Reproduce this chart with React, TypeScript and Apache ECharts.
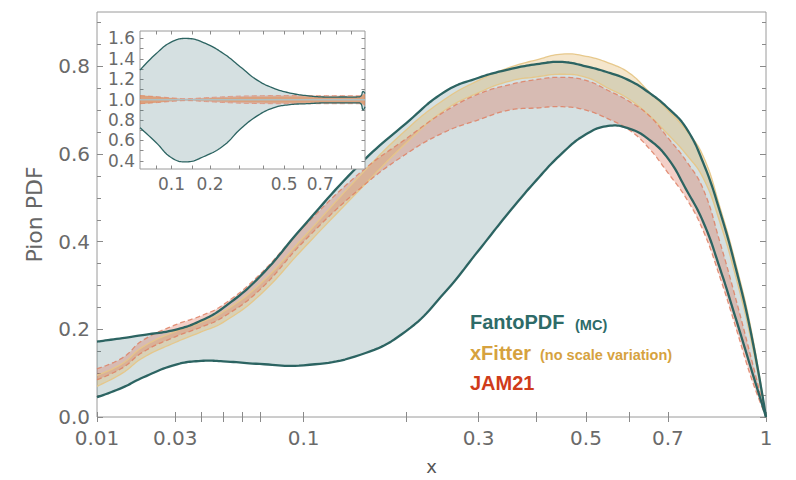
import React, { useEffect, useRef } from 'react';
import * as echarts from 'echarts';

// ---------- main panel data (x in [0.01, 1]) ----------
const xValues = [0.01, 0.015, 0.02, 0.03, 0.04, 0.05, 0.07, 0.1, 0.15, 0.2, 0.25, 0.3, 0.35, 0.4, 0.45, 0.5, 0.55, 0.6, 0.65, 0.7, 0.75, 0.8, 0.85, 0.9, 0.95, 1];
const fantoUpper = [0.172, 0.18, 0.187, 0.199, 0.22, 0.249, 0.32, 0.436, 0.578, 0.67, 0.742, 0.774, 0.793, 0.805, 0.81, 0.8, 0.786, 0.768, 0.74, 0.705, 0.66, 0.58, 0.47, 0.34, 0.19, 0];
const fantoLower = [0.045, 0.067, 0.09, 0.119, 0.128, 0.127, 0.121, 0.118, 0.142, 0.196, 0.284, 0.38, 0.467, 0.541, 0.602, 0.645, 0.664, 0.658, 0.633, 0.59, 0.52, 0.445, 0.34, 0.225, 0.11, 0];
const xfitterUpper = [0.095, 0.122, 0.16, 0.195, 0.216, 0.24, 0.303, 0.41, 0.552, 0.655, 0.725, 0.768, 0.797, 0.815, 0.828, 0.823, 0.808, 0.785, 0.742, 0.7, 0.655, 0.595, 0.48, 0.35, 0.2, 0];
const xfitterLower = [0.07, 0.1, 0.135, 0.17, 0.194, 0.216, 0.278, 0.385, 0.52, 0.625, 0.7, 0.74, 0.766, 0.776, 0.782, 0.775, 0.75, 0.725, 0.688, 0.645, 0.6, 0.545, 0.445, 0.32, 0.175, 0];
const jamUpper = [0.11, 0.135, 0.175, 0.21, 0.231, 0.256, 0.325, 0.434, 0.558, 0.635, 0.697, 0.737, 0.758, 0.77, 0.775, 0.768, 0.745, 0.72, 0.688, 0.637, 0.585, 0.52, 0.4, 0.27, 0.135, 0];
const jamLower = [0.085, 0.112, 0.148, 0.183, 0.205, 0.228, 0.29, 0.4, 0.522, 0.6, 0.65, 0.678, 0.7, 0.705, 0.708, 0.7, 0.68, 0.655, 0.613, 0.557, 0.5, 0.425, 0.32, 0.205, 0.09, 0];

const xTickValues = [0.01, 0.03, 0.04, 0.05, 0.06, 0.07, 0.1, 0.2, 0.3, 0.4, 0.5, 0.6, 0.7, 1];
const xLabelValues = [0.01, 0.03, 0.1, 0.3, 0.5, 0.7, 1];
const xLabelTexts = ['0.01', '0.03', '0.1', '0.3', '0.5', '0.7', '1'];
const yMajorTicks = [0, 0.2, 0.4, 0.6, 0.8];
const yMinorTicks = [0.05, 0.1, 0.15, 0.25, 0.3, 0.35, 0.45, 0.5, 0.55, 0.65, 0.7, 0.75, 0.85, 0.9];

// ---------- inset data (ratio to central value) ----------
const insetX = [0.045, 0.07, 0.1, 0.135, 0.18, 0.243, 0.304, 0.372, 0.447, 0.53, 0.621, 0.719, 0.85, 0.94, 0.97, 0.985, 1];
const fantoRatioUpper = [1.29, 1.45, 1.566, 1.6, 1.56, 1.453, 1.323, 1.194, 1.113, 1.065, 1.039, 1.026, 1.026, 1.026, 1.035, 1.08, 1.06];
const fantoRatioLower = [0.725, 0.58, 0.43, 0.39, 0.44, 0.547, 0.709, 0.838, 0.919, 0.951, 0.96, 0.968, 0.968, 0.968, 0.96, 0.9, 0.93];
const xfitterRatioUpper = [1.045, 1.03, 1.015, 1.006, 1.012, 1.02, 1.025, 1.028, 1.03, 1.03, 1.03, 1.03, 1.03, 1.032, 1.035, 1.045, 1.05];
const xfitterRatioLower = [0.955, 0.97, 0.985, 0.994, 0.988, 0.98, 0.975, 0.972, 0.97, 0.97, 0.97, 0.97, 0.97, 0.968, 0.965, 0.955, 0.95];
const jamRatioUpper = [1.04, 1.03, 1.018, 1.01, 1.018, 1.028, 1.035, 1.038, 1.04, 1.04, 1.04, 1.04, 1.04, 1.04, 1.042, 1.05, 1.055];
const jamRatioLower = [0.96, 0.97, 0.982, 0.99, 0.982, 0.972, 0.965, 0.962, 0.96, 0.96, 0.96, 0.96, 0.96, 0.96, 0.958, 0.95, 0.945];
const centralRatio = [1, 1, 1, 1, 1, 1, 1, 1, 1, 1, 1, 1, 1, 1, 1, 1, 1];

const insetXTicks = [0.07, 0.1, 0.15, 0.2, 0.3, 0.4, 0.5, 0.6, 0.7, 0.8, 0.9];
const insetXLabelValues = [0.1, 0.2, 0.5, 0.7];
const insetXLabelTexts = ['0.1', '0.2', '0.5', '0.7'];
const insetYTicks = [0.4, 0.5, 0.6, 0.7, 0.8, 0.9, 1.0, 1.1, 1.2, 1.3, 1.4, 1.5, 1.6];
const insetYLabels = [0.4, 0.6, 0.8, 1.0, 1.2, 1.4, 1.6];

// ---------- styling ----------
const P_MAIN = 0.35;
const P_INSET = 0.46;
const tMain = (x: number) => Math.pow(x, P_MAIN);
const tInset = (x: number) => Math.pow(x, P_INSET);
const FONT = "'DejaVu Sans', sans-serif";
const LEG_FONT = "'Liberation Sans', Arial, Helvetica, sans-serif";
const FRAME = '#9a9a9a';
const TICK = '#8a8a8a';
const LABEL = '#6a6a6a';
const FANTO_LINE = '#2c6462';
const FANTO_FILL = 'rgba(55,110,115,0.21)';
const XF_FILL = 'rgba(225,178,95,0.32)';
const XF_EDGE = 'rgba(230,198,135,0.95)';
const JAM_FILL = 'rgba(222,110,85,0.32)';
const JAM_EDGE = 'rgba(222,128,100,0.85)';
const SMOOTH = 0.45;
const STEPS = 12;

// Smooth curve through pixel points (bezier control points from neighbours, no clamping).
function smoothPath(pts: number[][]): number[][] {
  const n = pts.length;
  const cps: number[][][] = [];
  for (let i = 0; i < n; i++) {
    const p = pts[i];
    if (i === 0 || i === n - 1) { cps.push([p, p]); continue; }
    const a = pts[i - 1];
    const b = pts[i + 1];
    const vx = (b[0] - a[0]) * SMOOTH;
    const vy = (b[1] - a[1]) * SMOOTH;
    const d0 = Math.hypot(p[0] - a[0], p[1] - a[1]);
    const d1 = Math.hypot(b[0] - p[0], b[1] - p[1]);
    const s = d0 + d1 || 1;
    cps.push([[p[0] - vx * d0 / s, p[1] - vy * d0 / s], [p[0] + vx * d1 / s, p[1] + vy * d1 / s]]);
  }
  const out: number[][] = [];
  for (let i = 0; i < n - 1; i++) {
    const p0 = pts[i], c1 = cps[i][1], c2 = cps[i + 1][0], p1 = pts[i + 1];
    for (let k = 0; k < STEPS; k++) {
      const t = k / STEPS, u = 1 - t;
      const w0 = u * u * u, w1 = 3 * u * u * t, w2 = 3 * u * t * t, w3 = t * t * t;
      out.push([
        w0 * p0[0] + w1 * c1[0] + w2 * c2[0] + w3 * p1[0],
        w0 * p0[1] + w1 * c1[1] + w2 * c2[1] + w3 * p1[1],
      ]);
    }
  }
  out.push(pts[n - 1]);
  return out;
}

// Band: custom series whose data are [t, lower, upper]; drawn as one smooth polygon.
function bandSeries(xs: number[], tf: (x: number) => number, lo: number[], hi: number[], fill: string, xi: number, yi: number, z: number) {
  return {
    type: 'custom', xAxisIndex: xi, yAxisIndex: yi, z, silent: true,
    encode: { x: 0, y: [1, 2] },
    data: xs.map((x, i) => [tf(x), lo[i], hi[i]]),
    renderItem: (params: any, api: any) => {
      if (params.dataIndex !== 0) return null;
      const n = params.dataInsideLength;
      const up: number[][] = [];
      const dn: number[][] = [];
      for (let i = 0; i < n; i++) {
        up.push(api.coord([api.value(0, i), api.value(2, i)]));
        dn.push(api.coord([api.value(0, i), api.value(1, i)]));
      }
      const points = smoothPath(up).concat(smoothPath(dn).reverse());
      return { type: 'polygon', silent: true, shape: { points }, style: { fill } };
    },
  };
}

function edgeSeries(xs: number[], tf: (x: number) => number, ys: number[], color: string, width: number, dashed: boolean, xi: number, yi: number, z: number) {
  return {
    type: 'custom', xAxisIndex: xi, yAxisIndex: yi, z, silent: true,
    encode: { x: 0, y: 1 },
    data: xs.map((x, i) => [tf(x), ys[i]]),
    renderItem: (params: any, api: any) => {
      if (params.dataIndex !== 0) return null;
      const n = params.dataInsideLength;
      const pts: number[][] = [];
      for (let i = 0; i < n; i++) pts.push(api.coord([api.value(0, i), api.value(1, i)]));
      return {
        type: 'polyline', silent: true, shape: { points: smoothPath(pts) },
        style: { stroke: color, lineWidth: width, fill: null, lineDash: dashed ? [5, 3] : null, lineJoin: 'round' },
      };
    },
  };
}

function tickAxis(extra: any) {
  return {
    type: 'value', splitLine: { show: false }, axisLine: { show: false },
    axisLabel: { show: false }, ...extra,
  };
}

export default function App() {
  const ref = useRef<HTMLDivElement>(null);
  useEffect(() => {
    if (!ref.current) return;
    const chart = echarts.init(ref.current, null, { renderer: 'svg' });
    const mainXMin = tMain(xValues[0]);
    const insetXMin = tInset(insetX[0]);
    const mainXLabel = (v: number) => {
      const i = xLabelValues.findIndex((x) => Math.abs(tMain(x) - v) < 1e-6);
      return i >= 0 ? xLabelTexts[i] : '';
    };
    const insetXLabel = (v: number) => {
      const i = insetXLabelValues.findIndex((x) => Math.abs(tInset(x) - v) < 1e-6);
      return i >= 0 ? insetXLabelTexts[i] : '';
    };
    const tickStyle = { lineStyle: { color: TICK, width: 1 } };

    const option: any = {
      animation: false,
      grid: [
        { left: 97, top: 12, width: 669, height: 411, show: true, borderColor: FRAME, borderWidth: 1, backgroundColor: 'transparent' },
        { left: 140, top: 31, width: 225, height: 138, show: true, borderColor: FRAME, borderWidth: 1, backgroundColor: '#ffffff', z: 10 },
      ],
      xAxis: [
        tickAxis({
          gridIndex: 0, position: 'bottom', min: mainXMin, max: 1,
          axisTick: { show: true, inside: true, length: 5, customValues: xTickValues.map(tMain), ...tickStyle },
          axisLabel: { show: true, customValues: xLabelValues.map(tMain), formatter: mainXLabel, color: LABEL, fontFamily: FONT, fontSize: 20, margin: 12, lineHeight: 18 },
          name: 'x', nameLocation: 'middle', nameGap: 40,
          nameTextStyle: { color: '#555', fontFamily: FONT, fontSize: 18 },
        }),
        tickAxis({
          gridIndex: 0, position: 'top', min: mainXMin, max: 1,
          axisTick: { show: true, inside: true, length: 5, customValues: xTickValues.map(tMain), ...tickStyle },
        }),
        tickAxis({
          gridIndex: 1, position: 'bottom', min: insetXMin, max: 1, z: 11,
          axisTick: { show: true, inside: true, length: 3.5, customValues: insetXTicks.map(tInset), ...tickStyle },
          axisLabel: { show: true, customValues: insetXLabelValues.map(tInset), formatter: insetXLabel, color: LABEL, fontFamily: FONT, fontSize: 17, margin: 6 },
        }),
        tickAxis({
          gridIndex: 1, position: 'top', min: insetXMin, max: 1, z: 11,
          axisTick: { show: true, inside: true, length: 3.5, customValues: insetXTicks.map(tInset), ...tickStyle },
        }),
      ],
      yAxis: [
        tickAxis({
          gridIndex: 0, position: 'left', min: 0, max: 0.924,
          axisTick: { show: true, inside: true, length: 6, customValues: yMajorTicks, ...tickStyle },
          axisLabel: { show: true, customValues: yMajorTicks, formatter: (v: number) => v.toFixed(1), color: LABEL, fontFamily: FONT, fontSize: 20, margin: 7, lineHeight: 16 },
          name: 'Pion PDF', nameLocation: 'middle', nameGap: 52, nameRotate: 90,
          nameTextStyle: { color: '#666', fontFamily: FONT, fontSize: 22 },
        }),
        tickAxis({
          gridIndex: 0, position: 'left', min: 0, max: 0.924,
          axisTick: { show: true, inside: true, length: 4, customValues: yMinorTicks, ...tickStyle },
        }),
        tickAxis({
          gridIndex: 0, position: 'right', min: 0, max: 0.924,
          axisTick: { show: true, inside: true, length: 6, customValues: yMajorTicks, ...tickStyle },
        }),
        tickAxis({
          gridIndex: 0, position: 'right', min: 0, max: 0.924,
          axisTick: { show: true, inside: true, length: 4, customValues: yMinorTicks, ...tickStyle },
        }),
        tickAxis({
          gridIndex: 1, position: 'left', min: 0.32, max: 1.673, z: 11,
          axisTick: { show: true, inside: true, length: 3.5, customValues: insetYTicks, ...tickStyle },
          axisLabel: { show: true, customValues: insetYLabels, formatter: (v: number) => v.toFixed(1), color: LABEL, fontFamily: FONT, fontSize: 17, margin: 5, lineHeight: 14 },
        }),
        tickAxis({
          gridIndex: 1, position: 'right', min: 0.32, max: 1.673, z: 11,
          axisTick: { show: true, inside: true, length: 3.5, customValues: insetYTicks, ...tickStyle },
        }),
      ],
      series: [
        // main panel bands
        bandSeries(xValues, tMain, fantoLower, fantoUpper, FANTO_FILL, 0, 0, 1),
        bandSeries(xValues, tMain, xfitterLower, xfitterUpper, XF_FILL, 0, 0, 2),
        bandSeries(xValues, tMain, jamLower, jamUpper, JAM_FILL, 0, 0, 3),
        edgeSeries(xValues, tMain, xfitterUpper, XF_EDGE, 1.3, false, 0, 0, 4),
        edgeSeries(xValues, tMain, xfitterLower, XF_EDGE, 1.3, false, 0, 0, 4),
        edgeSeries(xValues, tMain, jamUpper, JAM_EDGE, 1.3, true, 0, 0, 4),
        edgeSeries(xValues, tMain, jamLower, JAM_EDGE, 1.3, true, 0, 0, 4),
        edgeSeries(xValues, tMain, fantoUpper, FANTO_LINE, 2.3, false, 0, 0, 5),
        edgeSeries(xValues, tMain, fantoLower, FANTO_LINE, 2.3, false, 0, 0, 5),
        // inset bands
        bandSeries(insetX, tInset, fantoRatioLower, fantoRatioUpper, FANTO_FILL, 2, 4, 12),
        bandSeries(insetX, tInset, xfitterRatioLower, xfitterRatioUpper, 'rgba(225,160,80,0.55)', 2, 4, 13),
        bandSeries(insetX, tInset, jamRatioLower, jamRatioUpper, 'rgba(222,110,85,0.35)', 2, 4, 14),
        edgeSeries(insetX, tInset, centralRatio, '#aebfc1', 1.5, false, 2, 4, 15),
        edgeSeries(insetX, tInset, jamRatioUpper, JAM_EDGE, 0.8, true, 2, 4, 15),
        edgeSeries(insetX, tInset, jamRatioLower, JAM_EDGE, 0.8, true, 2, 4, 15),
        edgeSeries(insetX, tInset, fantoRatioUpper, FANTO_LINE, 1.3, false, 2, 4, 16),
        edgeSeries(insetX, tInset, fantoRatioLower, FANTO_LINE, 1.3, false, 2, 4, 16),
      ],
      graphic: [
        { type: 'text', x: 470, y: 322, z: 20, style: { text: 'FantoPDF', font: `bold 20px ${LEG_FONT}`, fill: '#2e6b68', verticalAlign: 'middle' } },
        { type: 'text', x: 575, y: 324.5, z: 20, style: { text: '(MC)', font: `bold 14.5px ${LEG_FONT}`, fill: '#2e6b68', verticalAlign: 'middle' } },
        { type: 'text', x: 470, y: 352.5, z: 20, style: { text: 'xFitter', font: `bold 20px ${LEG_FONT}`, fill: '#d6a23f', verticalAlign: 'middle' } },
        { type: 'text', x: 540, y: 355, z: 20, style: { text: '(no scale variation)', font: `bold 14.5px ${LEG_FONT}`, fill: '#d6a23f', verticalAlign: 'middle' } },
        { type: 'text', x: 470, y: 382.5, z: 20, style: { text: 'JAM21', font: `bold 20px ${LEG_FONT}`, fill: '#cf3b1a', verticalAlign: 'middle' } },
      ],
    };
    chart.setOption(option);
    return () => chart.dispose();
  }, []);
  return <div ref={ref} style={{ position: 'fixed', left: 0, top: 0, width: 796, height: 480, background: '#fff' }} />;
}
